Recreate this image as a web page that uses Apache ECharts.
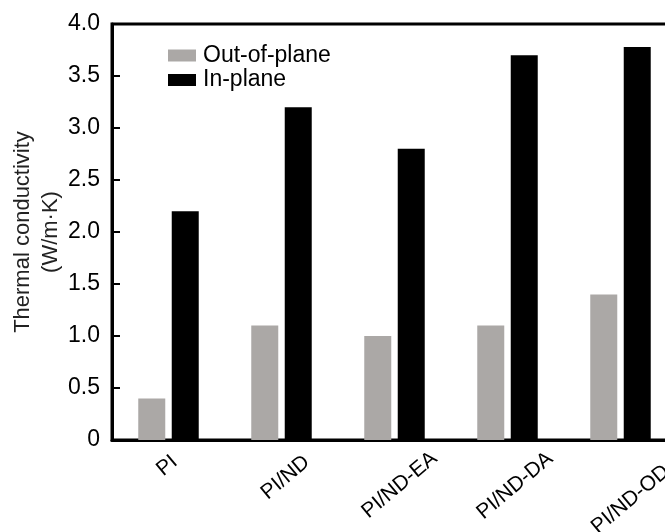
<!DOCTYPE html>
<html><head><meta charset="utf-8">
<script src="https://cdn.jsdelivr.net/npm/echarts@6/dist/echarts.min.js"></script>
<style>html,body{margin:0;padding:0;background:#fff}#c{width:665px;height:532px}</style>
</head><body><div id="c"></div>
<script>
const categories = ['PI', 'PI/ND', 'PI/ND-EA', 'PI/ND-DA', 'PI/ND-ODA'];
const outOfPlane = [0.4, 1.1, 1.0, 1.1, 1.4];
const inPlane = [2.2, 3.2, 2.8, 3.7, 3.78];
const seriesNames = ['Out-of-plane', 'In-plane'];
const yTickLabels = ['0', '0.5', '1.0', '1.5', '2.0', '2.5', '3.0', '3.5', '4.0'];

// layout only: per-label padding nudges for the rotated category labels
const labelPads = [[0, 21, 0, 0], [12.4, 28, 0, 0], [18.8, 36, 0, 0], [20.8, 33, 0, 0], [33, 33, 0, 0]];
const FONT = 'Liberation Sans, Arial, sans-serif';

const chart = echarts.init(document.getElementById('c'), null, {renderer: 'canvas'});
chart.setOption({
  animation: false,
  backgroundColor: '#fff',
  textStyle: {fontFamily: FONT},
  grid: {left: 112, top: 24, width: 565, height: 416, show: true, borderWidth: 3, borderColor: '#000', outerBoundsMode: 'none', containLabel: false},
  legend: {
    orient: 'vertical', left: 163, top: 39, itemWidth: 28, itemHeight: 12, itemGap: 1.5,
    icon: 'rect', data: seriesNames,
    textStyle: {fontSize: 23, lineHeight: 22, color: '#000', fontFamily: FONT, padding: [0, 0, 0, 2]}
  },
  xAxis: {
    type: 'category',
    data: categories.map((c, i) => ({value: c, textStyle: {padding: labelPads[i], align: 'center', verticalAlign: 'top'}})),
    axisLine: {lineStyle: {color: '#000', width: 3}},
    axisTick: {show: false},
    axisLabel: {interval: 0, rotate: 40, margin: 11, fontSize: 21, lineHeight: 21, color: '#000', fontFamily: FONT},
    splitLine: {show: false}
  },
  yAxis: {
    type: 'value', min: 0, max: 4, interval: 0.5,
    name: 'Thermal conductivity\n(W/m·K)', nameLocation: 'middle', nameGap: 47, nameRotate: 90,
    nameMoveOverlap: false,
    nameTextStyle: {fontSize: 22, lineHeight: 28, color: '#222', fontFamily: FONT},
    axisLine: {show: true, lineStyle: {color: '#000', width: 3}},
    axisTick: {show: true, inside: true, length: 8, lineStyle: {color: '#000', width: 2}},
    axisLabel: {margin: 12, fontSize: 23, color: '#000', fontFamily: FONT,
      formatter: v => yTickLabels[Math.round(v / 0.5)]},
    splitLine: {show: false}
  },
  series: [
    {name: seriesNames[0], type: 'bar', data: outOfPlane, barWidth: 27, barGap: '24%', itemStyle: {color: '#aba8a6'}},
    {name: seriesNames[1], type: 'bar', data: inPlane, barWidth: 27, barGap: '24%', itemStyle: {color: '#000'}}
  ]
});
</script></body></html>
